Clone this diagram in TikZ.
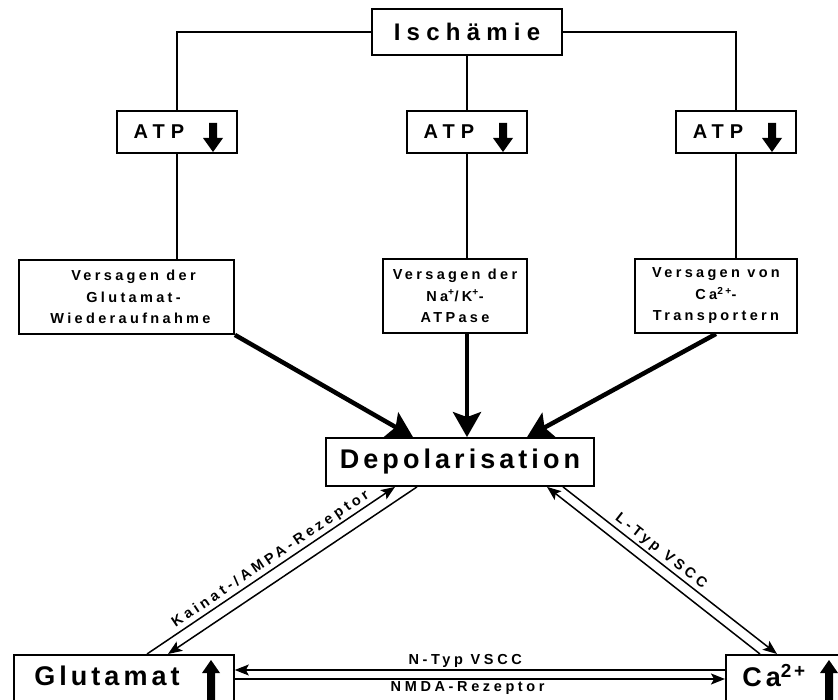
\documentclass[tikz,border=0pt]{standalone}
\usepackage{fontspec}
\setmainfont{Liberation Sans}
\usetikzlibrary{arrows.meta,positioning}

\newcommand\ftitle{\bfseries\fontsize{24}{27}\selectfont\addfontfeature{LetterSpace=26}}
\newcommand\fhead{\bfseries\fontsize{27}{30}\selectfont\addfontfeature{LetterSpace=15}}
\newcommand\fatp{\bfseries\fontsize{20}{23}\selectfont\addfontfeature{LetterSpace=30}}
\newcommand\fsmall{\bfseries\fontsize{14.5}{21.5}\selectfont\addfontfeature{LetterSpace=23}}
\newcommand\flbl{\bfseries\fontsize{14.5}{16}\selectfont\addfontfeature{LetterSpace=25}}

\begin{document}
\begin{tikzpicture}[
				x=1pt,
				y=-1pt,
				line join=miter,
				box/.style={draw, line width=1.8pt, fill=white, inner sep=0pt},
				wire/.style={line width=1.5pt},
				fat/.style={line width=4.5pt, -{Stealth[length=25pt,width=28pt,inset=5pt]}},
				thin/.style={line width=1.5pt, -{Stealth[length=14pt,width=11pt,inset=3pt]}},
				lbl/.style={font=\flbl, inner sep=2pt},
				dnarrow/.pic={\fill (-4,-14) -- (4,-14) -- (4,1) -- (10,1) -- (0,15) -- (-10,1) -- (-4,1) -- cycle;},
				uparrow/.pic={\fill (-4,40) -- (4,40) -- (4,-3) -- (9,-3) -- (0,-16) -- (-9,-3) -- (-4,-3) -- cycle;}
			]
			\useasboundingbox (0,0) rectangle (838,700);
			\clip (0,0) rectangle (838,700);

			% Top
			\node[box, minimum width=190pt, minimum height=46pt, font=\ftitle] (isch) at (467,32) {Ischämie};

			% ATP boxes
			\foreach \n/\x in {1/177, 2/467, 3/736} {
				\node[box, minimum width=120pt, minimum height=42pt] (atp\n) at (\x,132) {};
				\node[font=\fatp] at ([xshift=-18pt]atp\n.center) {ATP};
				\pic at ([xshift=36pt, yshift=-5pt]atp\n.center) {dnarrow};
			}

			% Failures
			\node[box, minimum width=215pt, minimum height=74pt, font=\fsmall, align=center] (ver1) at (126.5,297) {\hspace*{14pt}Versagen der\\\hspace*{14pt}Glutamat-\\\hspace*{8pt}Wiederaufnahme};
			\node[box, minimum width=144pt, minimum height=74pt, font=\fsmall, align=center] (ver2) at (455,296) {Versagen der\\Na\textsuperscript{+}/K\textsuperscript{+}-\\ATPase};
			\node[box, minimum width=162pt, minimum height=74pt, font=\fsmall, align=center] (ver3) at (716,296) {Versagen von\\Ca\textsuperscript{2+}-\\Transportern};

			\draw[wire] (isch.west) -| (atp1.north);
			\draw[wire] (isch.south) -- (atp2.north);
			\draw[wire] (isch.east) -| (atp3.north);
			\draw[wire] (atp1.south) -- (atp1.south |- ver1.north);
			\draw[wire] (atp2.south) -- (atp2.south |- ver2.north);
			\draw[wire] (atp3.south) -- (atp3.south |- ver3.north);

			% Depolarisation
			\node[box, minimum width=268pt, minimum height=48pt, font=\fhead] (depol) at (460,462) {Depolarisation};

			\draw[fat] (ver1.south east) -- ([xshift=-47pt]depol.north);
			\draw[fat] (atp2.south |- ver2.south) -- (atp2.south |- depol.north);
			\draw[fat] (ver3.south) -- ([xshift=67pt]depol.north);

			% Bottom boxes
			\node[box, anchor=north west, minimum width=220pt, minimum height=70pt] (glut) at (13,654) {};
			\node[font=\fhead] at ([xshift=94pt, yshift=-22pt]glut.north west) {Glutamat};
			\pic at ([xshift=198pt, yshift=-22pt]glut.north west) {uparrow};

			\node[box, anchor=north west, minimum width=150pt, minimum height=70pt] (ca) at (725,654) {};
			\node[font=\fhead] at ([xshift=49pt, yshift=-22pt]ca.north west) {Ca\textsuperscript{2+}};
			\pic at ([xshift=104pt, yshift=-22pt]ca.north west) {uparrow};

			% Double connectors
			\draw[thin] ([xshift=134pt]glut.north west) -- ([xshift=-65pt]depol.south)
				node[lbl, pos=0.52, sloped, above] {Kainat-/AMPA-Rezeptor};
			\draw[thin] ([xshift=-43pt]depol.south) -- ([xshift=155pt]glut.north west);
			\draw[thin] ([xshift=103pt]depol.south) -- ([xshift=52pt]ca.north west)
				node[lbl, pos=0.43, sloped, above] {L-Typ VSCC};
			\draw[thin] ([xshift=35pt]ca.north west) -- ([xshift=87pt]depol.south);
			\draw[thin] ([yshift=-16pt]ca.north west) -- ([yshift=-16pt]glut.north east)
				node[lbl, pos=0.53, above] {N-Typ VSCC};
			\draw[thin] ([yshift=-25pt]glut.north east) -- ([yshift=-25pt]ca.north west)
				node[lbl, pos=0.475, below] {NMDA-Rezeptor};

		\end{tikzpicture}
\end{document}
